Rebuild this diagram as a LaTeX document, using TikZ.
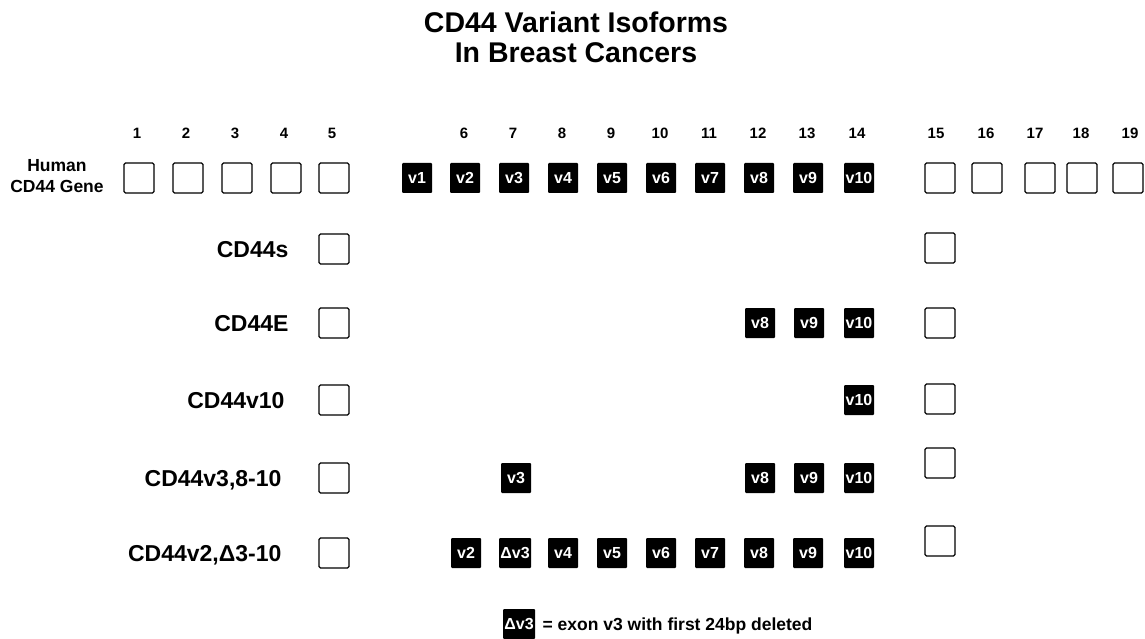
\documentclass[tikz,border=0pt]{standalone}
\usepackage{fontspec}
\setmainfont{Liberation Sans}
\begin{document}
\begin{tikzpicture}[x=1pt,y=-1pt,
  open/.style={draw, line width=1.2pt, rounded corners=1.5pt, minimum width=30pt, minimum height=30pt, inner sep=0pt},
  exon/.style={fill=black, rounded corners=1pt, minimum width=30pt, minimum height=30pt, inner sep=0pt, text=white, font=\fontsize{16}{18}\selectfont\bfseries},
  dexon/.style={exon, minimum width=32pt},
  num/.style={font=\fontsize{15}{17}\selectfont\bfseries, anchor=base},
  lbl/.style={font=\fontsize{23}{27}\selectfont\bfseries, anchor=base east},
  ttl/.style={font=\fontsize{28.5}{31}\selectfont\bfseries, anchor=base},
]
\useasboundingbox (0,0) rectangle (1145,639);

% title
\node[ttl] (t1) at (576,33) {CD44 Variant Isoforms};
\node[ttl] (t2) at (576,63) {In Breast Cancers};

% exon numbers
\foreach \n/\x in {1/137,2/186,3/235,4/284,5/332,6/464,7/513,8/562,9/611,10/660,11/709,12/758,13/807,14/857,15/936,16/986,17/1035,18/1081,19/1130}
  \node[num] (n\n) at (\x,139) {\n};

% gene row
\node[font=\fontsize{17.5}{20.5}\selectfont\bfseries, align=center] (glbl) at (57,176) {Human\\CD44 Gene};
\foreach \n/\x in {1/139,2/188,3/237,4/286,5/334,15/940,16/987,17/1040,18/1082,19/1128}
  \node[open] (g\n) at (\x,178) {};
\foreach \v/\x in {1/417,2/465,3/514,4/563,5/612,6/661,7/710,8/759,9/808,10/859}
  \node[exon] (gv\v) at (\x,178) {v\v};

% CD44s
\node[lbl] (ls) at (292,257) {CD44s};
\node[open] (s5) at (334,249) {};
\node[open] (s15) at (940,248) {};

% CD44E
\node[lbl] (le) at (292,331) {CD44E};
\node[open] (e5) at (334,323) {};
\node[exon] (ev8) at (760,323) {v8};
\node[exon] (ev9) at (809,323) {v9};
\node[exon] (ev10) at (859,323) {v10};
\node[open] (e15) at (940,323) {};

% CD44v10
\node[lbl] (lt) at (288,408) {CD44v10};
\node[open] (t5) at (334,400) {};
\node[exon] (tv10) at (859,400) {v10};
\node[open] (t15) at (940,399) {};

% CD44v3,8-10
\node[lbl] (lf) at (285,486) {CD44v3,8-10};
\node[open] (f5) at (334,478) {};
\node[exon] (fv3) at (516,478) {v3};
\node[exon] (fv8) at (760,478) {v8};
\node[exon] (fv9) at (809,478) {v9};
\node[exon] (fv10) at (859,478) {v10};
\node[open] (f15) at (940,463) {};

% CD44v2,D3-10
\node[lbl] (ld) at (285,561) {CD44v2,Δ3-10};
\node[open] (d5) at (334,553) {};
\foreach \v/\x in {2/466,4/563,5/612,6/661,7/710,8/759,9/808,10/859}
  \node[exon] (dv\v) at (\x,553) {v\v};
\node[dexon] (dv3) at (515,553) {Δv3};
\node[open] (d15) at (940,541) {};

% legend
\node[dexon] (leg) at (519,624) {Δv3};
\node[font=\fontsize{17.5}{20}\selectfont\bfseries, anchor=base west] (legt) at (539,630) {= exon v3 with first 24bp deleted};
\end{tikzpicture}
\end{document}
